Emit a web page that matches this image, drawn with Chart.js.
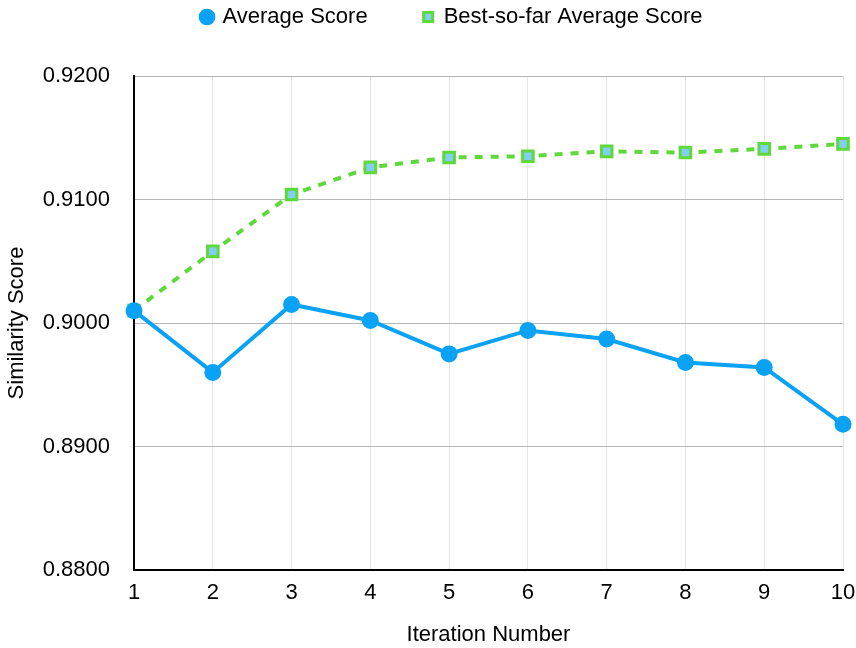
<!DOCTYPE html>
<html>
<head>
<meta charset="utf-8">
<script src="https://cdn.jsdelivr.net/npm/chart.js"></script>
<style>
  html, body { margin: 0; padding: 0; background: #fff; }
  #wrap { width: 856px; height: 648px; }
</style>
</head>
<body>
<div id="wrap"><canvas id="c" width="856" height="648"></canvas></div>
<script>
// data
const iterations = ['1', '2', '3', '4', '5', '6', '7', '8', '9', '10'];
const averageScore = [0.9010, 0.8960, 0.9015, 0.9002, 0.8975, 0.8994, 0.8987, 0.8968, 0.8964, 0.8918];
const bestSoFar = [0.9010, 0.9058, 0.9104, 0.9126, 0.9134, 0.9135, 0.9139, 0.9138, 0.9141, 0.9145];
const yTicks = [0.88, 0.89, 0.90, 0.91, 0.92];

const FONT = 'Liberation Sans, Arial, Helvetica, sans-serif';
Chart.defaults.font.family = FONT;
Chart.defaults.color = '#000';

const LEGEND_PAD = 56;

// legend sits high, plot area starts lower; legend is nudged right like the original
const legendSpace = {
  id: 'legendSpace',
  beforeInit(chart) {
    const lg = chart.legend;
    const fit = lg.fit;
    lg.fit = function () {
      fit.call(lg);
      lg.height = 126;
    };
    const draw = lg.draw;
    lg.draw = function () {
      const ctx = chart.ctx;
      ctx.save();
      ctx.translate(31, 0);
      draw.call(lg);
      ctx.restore();
    };
  }
};

new Chart(document.getElementById('c').getContext('2d'), {
  type: 'line',
  data: {
    labels: iterations,
    datasets: [{
      label: 'Average Score',
      data: averageScore,
      borderColor: '#0aa2f5',
      backgroundColor: '#0aa2f5',
      borderWidth: 4,
      pointRadius: 6.5,
      pointStyle: 'circle',
      tension: 0
    }, {
      label: 'Best-so-far Average Score',
      data: bestSoFar,
      borderColor: '#5fd83b',
      backgroundColor: '#7fd0f2',
      borderWidth: 4,
      borderDash: [8, 8],
      pointStyle: 'rect',
      pointRadius: 7.5,
      pointBorderWidth: 3,
      pointBorderColor: '#5fd83b',
      pointBackgroundColor: '#7fd0f2',
      tension: 0
    }]
  },
  options: {
    responsive: false,
    animation: false,
    layout: { padding: { left: 0, right: 13, top: 6 - LEGEND_PAD, bottom: 0 } },
    plugins: {
      legend: {
        position: 'top',
        labels: {
          usePointStyle: true,
          boxWidth: 9,
          boxHeight: 9,
          padding: LEGEND_PAD,
          font: { size: 22 },
          color: '#000'
        }
      },
      tooltip: { enabled: false }
    },
    scales: {
      x: {
        type: 'category',
        offset: false,
        afterFit: s => { s.height = 78; s.paddingRight = 0; s.paddingLeft = 0; },
        border: { display: true, color: '#000', width: 2 },
        grid: { color: '#e4e4e4', lineWidth: 1, drawTicks: false },
        ticks: { font: { size: 22 }, color: '#000', padding: 10, maxRotation: 0 },
        title: {
          display: true,
          text: 'Iteration Number',
          font: { size: 22 },
          color: '#000',
          padding: { top: 4, bottom: 0 }
        }
      },
      y: {
        min: 0.88,
        max: 0.92,
        afterFit: s => { s.width = 134; s.paddingTop = 0; s.paddingBottom = 0; },
        afterBuildTicks: s => { s.ticks = yTicks.map(v => ({ value: v })); },
        border: { display: true, color: '#000', width: 2 },
        grid: { color: '#b6b6b6', lineWidth: 1, drawTicks: false },
        ticks: {
          font: { size: 22 },
          color: '#000',
          padding: 24,
          callback: v => Number(v).toFixed(4)
        },
        title: {
          display: true,
          text: 'Similarity Score',
          font: { size: 22 },
          color: '#000',
          padding: { top: 4, bottom: 0 }
        }
      }
    }
  },
  plugins: [legendSpace]
});
</script>
</body>
</html>
